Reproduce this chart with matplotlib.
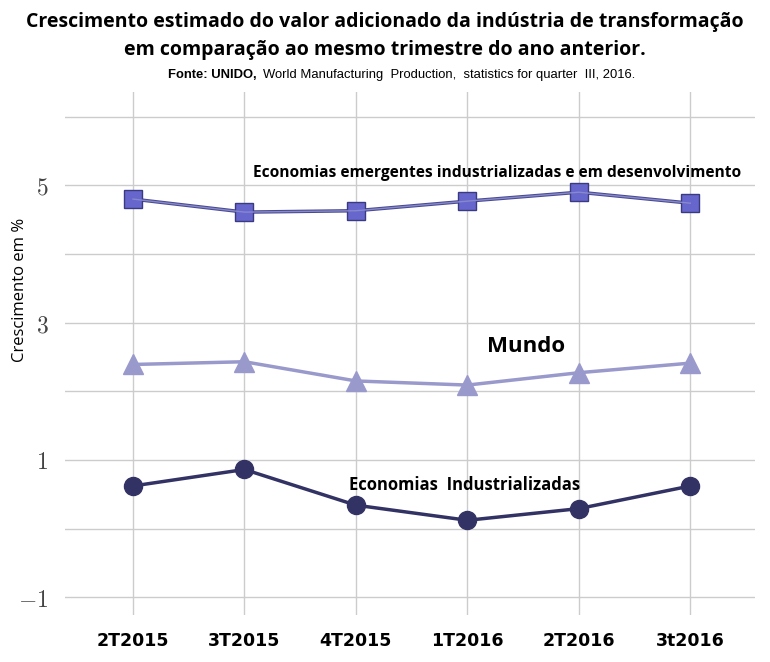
import matplotlib
matplotlib.use('Agg')
from matplotlib import pyplot as plt

# data
quarters = ["2T2015", "3T2015", "4T2015", "1T2016", "2T2016", "3t2016"]
emergentes = [4.80, 4.61, 4.63, 4.77, 4.90, 4.74]
mundo = [2.39, 2.43, 2.15, 2.09, 2.27, 2.41]
industrializadas = [0.62, 0.86, 0.34, 0.12, 0.29, 0.62]
yticks = [-1, 1, 3, 5]
ygrid = [-1, 0, 1, 2, 3, 4, 5, 6]

plt.rcParams['mathtext.fontset'] = 'cm'

fig = plt.figure(figsize=(7.7, 6.62), dpi=100)
ax = fig.add_axes([65 / 770, 1 - 615 / 662, 690 / 770, 523 / 662])

xs = list(range(len(quarters)))

ax.plot(xs, industrializadas, color="#323264", lw=2.5, marker="o", ms=13,
        mfc="#323264", mec="#323264", zorder=3)
ax.plot(xs, mundo, color="#9999cc", lw=2.5, marker="^", ms=15,
        mfc="#9999cc", mec="#9999cc", zorder=3)
ax.plot(xs, emergentes, color="#4a4a90", lw=2.5, marker="s", ms=13,
        mfc="#6666cc", mec="#3a3a80", mew=1.0, zorder=3)
ax.plot(xs, emergentes, color="#8888cc", lw=1.0, zorder=3)

ax.set_xlim(-0.61, 5.58)
ax.set_ylim(-1.26, 6.36)
ax.set_xticks(xs)
ax.set_xticklabels(quarters, fontsize=12.5, fontweight="bold", family="DejaVu Sans")
ax.set_yticks(ygrid)
ax.set_yticklabels([("$%d$" % v) if v in yticks else "" for v in ygrid],
                   fontsize=17, color="#444444")
ax.tick_params(length=0, pad=12)
ax.tick_params(axis="x", pad=12)
for s in ax.spines.values():
    s.set_visible(False)
ax.grid(True, color="#cccccc", lw=1.0)
ax.set_axisbelow(True)

fig.text(20 / 770, 1 - 290 / 662, "Crescimento em %", rotation=90, ha="center", va="center",
         fontsize=12, family="Open Sans")

ax.text(1.08, 5.07, "Economias emergentes industrializadas e em desenvolvimento",
        fontsize=11.2, fontweight="bold", family="Open Sans", va="bottom")
ax.text(3.18, 2.5, "Mundo", fontsize=16, fontweight="bold", family="Open Sans", va="bottom")
ax.text(1.94, 0.5, "Economias  Industrializadas", fontsize=12, fontweight="bold",
        family="Open Sans", va="bottom")

fig.text(0.5, 1 - 22 / 662, "Crescimento estimado do valor adicionado da indústria de transformação",
         ha="center", va="center", fontsize=14, fontweight="bold", family="Open Sans")
fig.text(0.5, 1 - 50 / 662, "em comparação ao mesmo trimestre do ano anterior.",
         ha="center", va="center", fontsize=14, fontweight="bold", family="Open Sans")
fig.text(257 / 770, 1 - 75 / 662, "Fonte: UNIDO,", ha="right", va="center",
         fontsize=9.4, fontweight="bold", family="Liberation Sans")
fig.text(263 / 770, 1 - 75 / 662,
         "World Manufacturing  Production,  statistics for quarter  III, 2016.",
         ha="left", va="center", fontsize=9.4, family="Liberation Sans")

fig.savefig("out.png", dpi=100)
